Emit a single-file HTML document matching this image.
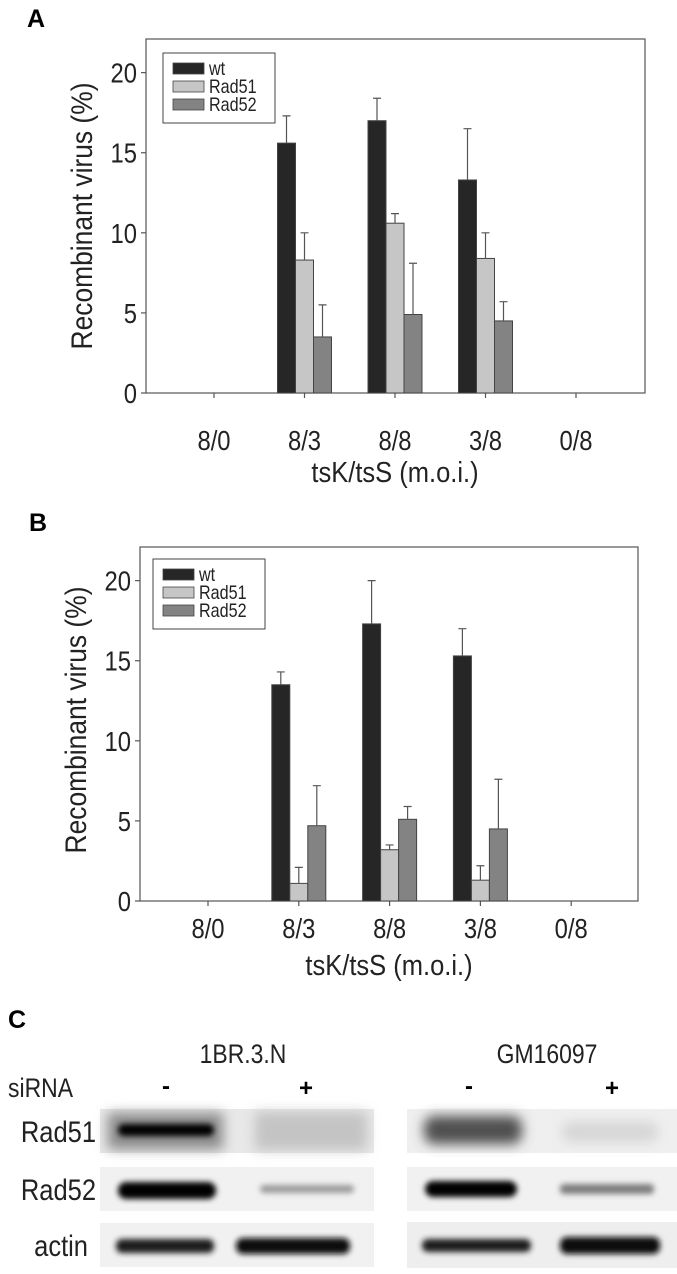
<!DOCTYPE html>
<html><head><meta charset="utf-8">
<style>
html,body{margin:0;padding:0;background:#fff;}
body{width:677px;height:1274px;overflow:hidden;position:relative;font-family:"Liberation Sans",sans-serif;}
svg{position:absolute;left:0;top:0;}
</style></head>
<body>
<svg id="fig" width="677" height="1274" viewBox="0 0 677 1274">
<defs>
<filter id="blur3" x="-20%" y="-100%" width="140%" height="300%"><feGaussianBlur stdDeviation="3"/></filter>
<filter id="blur6" x="-30%" y="-150%" width="160%" height="400%"><feGaussianBlur stdDeviation="6"/></filter>
</defs>
<g id="chartA"></g>
<g id="chartB"></g>
<g id="panelC" font-family="Liberation Sans">
<text x="8" y="1028" font-weight="bold" font-size="25">C</text>
<text transform="translate(243,1063) scale(0.85,1)" text-anchor="middle" font-size="27" fill="#222">1BR.3.N</text>
<text transform="translate(547,1063) scale(0.85,1)" text-anchor="middle" font-size="27" fill="#222">GM16097</text>
<text transform="translate(8,1097) scale(0.85,1)" font-size="27" fill="#222">siRNA</text>
<text x="166" y="1094" text-anchor="middle" font-size="24" font-weight="bold">-</text>
<text x="306" y="1096" text-anchor="middle" font-size="24" font-weight="bold">+</text>
<text x="469" y="1094" text-anchor="middle" font-size="24" font-weight="bold">-</text>
<text x="612" y="1096" text-anchor="middle" font-size="24" font-weight="bold">+</text>
<text transform="translate(96,1142) scale(0.85,1)" text-anchor="end" font-size="30" fill="#222">Rad51</text>
<text transform="translate(96,1200) scale(0.85,1)" text-anchor="end" font-size="30" fill="#222">Rad52</text>
<text transform="translate(88,1256) scale(0.85,1)" text-anchor="end" font-size="30" fill="#222">actin</text>

<g>
<rect x="100" y="1109" width="274" height="44" fill="#e8e8e8"/>
<rect x="255" y="1112" width="112" height="38" fill="#c4c4c4" filter="url(#blur6)"/>
<rect x="108" y="1113" width="115" height="36" fill="#8a8a8a" filter="url(#blur6)"/>
<rect x="118" y="1124" width="96" height="12" rx="6" fill="#000" filter="url(#blur3)"/>
</g>
<g>
<rect x="407" y="1109" width="270" height="44" fill="#efefef"/>
<rect x="424" y="1116" width="98" height="28" rx="10" fill="#505050" filter="url(#blur6)"/>
<rect x="562" y="1122" width="96" height="20" rx="8" fill="#d6d6d6" filter="url(#blur6)"/>
</g>
<g>
<rect x="100" y="1167" width="274" height="44" fill="#f1f1f1"/>
<rect x="118" y="1182" width="98" height="17" rx="8" fill="#000" filter="url(#blur3)"/>
<rect x="260" y="1185" width="94" height="8" rx="4" fill="#9a9a9a" filter="url(#blur3)"/>
</g>
<g>
<rect x="407" y="1167" width="270" height="44" fill="#f1f1f1"/>
<rect x="425" y="1181" width="92" height="16" rx="8" fill="#000" filter="url(#blur3)"/>
<rect x="560" y="1184" width="94" height="10" rx="4" fill="#7d7d7d" filter="url(#blur3)"/>
</g>
<g>
<rect x="100" y="1223" width="274" height="44" fill="#f1f1f1"/>
<rect x="116" y="1239" width="98" height="14" rx="6" fill="#1a1a1a" filter="url(#blur3)"/>
<rect x="236" y="1238" width="114" height="16" rx="7" fill="#0c0c0c" filter="url(#blur3)"/>
</g>
<g>
<rect x="407" y="1222" width="270" height="46" fill="#eeeeee"/>
<rect x="422" y="1239" width="109" height="13" rx="6" fill="#1a1a1a" filter="url(#blur3)"/>
<rect x="560" y="1237" width="100" height="17" rx="7" fill="#0a0a0a" filter="url(#blur3)"/>
</g>
</g>
</svg>
<script>
const categories = ["8/0","8/3","8/8","3/8","0/8"];
const seriesNames = ["wt","Rad51","Rad52"];
const yTicks = [0,5,10,15,20];
const aWt = [0,15.6,17.0,13.3,0];
const aWtErr = [0,1.7,1.4,3.2,0];
const aRad51 = [0,8.3,10.6,8.4,0];
const aRad51Err = [0,1.7,0.6,1.6,0];
const aRad52 = [0,3.5,4.9,4.5,0];
const aRad52Err = [0,2.0,3.2,1.2,0];
const bWt = [0,13.5,17.3,15.3,0];
const bWtErr = [0,0.8,2.7,1.7,0];
const bRad51 = [0,1.1,3.2,1.3,0];
const bRad51Err = [0,1.0,0.3,0.9,0];
const bRad52 = [0,4.7,5.1,4.5,0];
const bRad52Err = [0,2.5,0.8,3.1,0];

const NS = "http://www.w3.org/2000/svg";
const fills = ["#262626","#c6c6c6","#838383"];
function mk(parent, tag, attrs){
  const e = document.createElementNS(NS, tag);
  for (const k in attrs) e.setAttribute(k, attrs[k]);
  parent.appendChild(e);
  return e;
}
function drawChart(g, cfg, vals, errs, tag){
  const yMax = 22.1;
  const yScale = v => cfg.y0 - (v/yMax)*(cfg.y0 - cfg.top);
  const xScale = i => cfg.x0 + i*cfg.step;
  const lbl = mk(g,"text",{x:cfg.lx,y:cfg.ly,"font-weight":"bold","font-size":"25"});
  lbl.textContent = tag;
  
  
  const box = mk(g,"rect",{x:cfg.left,y:cfg.top,width:cfg.right-cfg.left,height:cfg.y0-cfg.top,fill:"none",stroke:"#555","stroke-width":"1.2"});
  
  
  yTicks.forEach(t=>{
    const y = yScale(t);
    const tk = mk(g,"line",{x1:cfg.left-5,x2:cfg.left,y1:y,y2:y,stroke:"#555","stroke-width":"1.2"});
    
    
    const tl = mk(g,"text",{transform:`translate(${cfg.left-9},${y+10}) scale(0.85,1)`,"text-anchor":"end","font-size":"28",fill:"#222"});
    tl.textContent = t;
    
    
  });
  categories.forEach((c,i)=>{
    const x = xScale(i);
    const tk = mk(g,"line",{x1:x,x2:x,y1:cfg.y0,y2:cfg.y0+5,stroke:"#555","stroke-width":"1.2"});
    
    
    const tl = mk(g,"text",{transform:`translate(${x},${cfg.catY}) scale(0.85,1)`,"text-anchor":"middle","font-size":"28",fill:"#222"});
    tl.textContent = c;
    
    
  });
  const bw = 18;
  vals.forEach((arr,s)=>{
    arr.forEach((v,i)=>{
      if (v<=0) return;
      const bx = xScale(i) - 1.5*bw + s*bw;
      const y = yScale(v);
      const r = mk(g,"rect",{x:bx,y:y,width:bw,height:cfg.y0-y,fill:fills[s],stroke:"#444","stroke-width":"1"});
      
      
      const ye = yScale(v+errs[s][i]);
      const cx = bx + bw/2;
      const el = mk(g,"path",{d:`M${cx},${y} V${ye} M${cx-4},${ye} H${cx+4}`,stroke:"#555","stroke-width":"1.2",fill:"none"});
      
      
    });
  });
  const lg = mk(g,"g",{});
  
  
  mk(lg,"rect",{x:cfg.lgx,y:cfg.lgy,width:112,height:70,fill:"#fff",stroke:"#444","stroke-width":"1"});
  seriesNames.forEach((n,s)=>{
    const yy = cfg.lgy + 10 + s*18;
    const sw = mk(lg,"rect",{x:cfg.lgx+10,y:yy,width:31,height:11,fill:fills[s],stroke:"#444","stroke-width":"0.8"});
    
    
    const t = mk(lg,"text",{transform:`translate(${cfg.lgx+46},${yy+12}) scale(0.85,1)`,"font-size":"19",fill:"#222"});
    t.textContent = n;
    
    
  });
  const yt = mk(g,"text",{x:0,y:0,"font-size":"30",fill:"#222","text-anchor":"middle",transform:`translate(${cfg.ytx},${cfg.yty}) rotate(-90) scale(0.88,1)`});
  yt.textContent = "Recombinant virus (%)";
  
  
  const xt = mk(g,"text",{"font-size":"29",fill:"#222","text-anchor":"middle",transform:`translate(${cfg.xtx},${cfg.xty}) scale(0.88,1)`});
  xt.textContent = "tsK/tsS (m.o.i.)";
  
  
}
drawChart(document.getElementById("chartA"),
  {left:146,right:645,top:39,y0:393,x0:214,step:90.5,catY:450,lx:27,ly:27,lgx:163,lgy:53,ytx:92,yty:216,xtx:395,xty:482},
  [aWt,aRad51,aRad52],[aWtErr,aRad51Err,aRad52Err],"A");
drawChart(document.getElementById("chartB"),
  {left:140,right:638,top:547,y0:901,x0:208,step:90.8,catY:938,lx:29,ly:531,lgx:153,lgy:559,ytx:86,yty:720,xtx:389,xty:975},
  [bWt,bRad51,bRad52],[bWtErr,bRad51Err,bRad52Err],"B");
</script>
</body></html>
